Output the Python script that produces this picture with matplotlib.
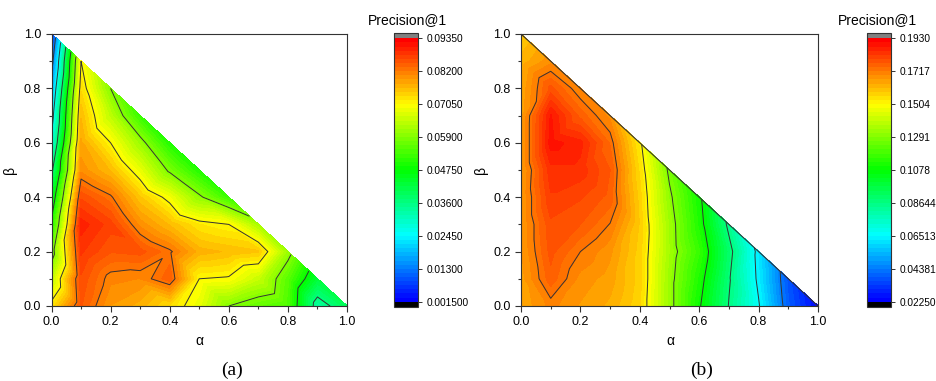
import numpy as np
import matplotlib
matplotlib.use('Agg')
import matplotlib.pyplot as plt
import matplotlib.tri as mtri
from matplotlib.colors import ListedColormap, hsv_to_rgb

plt.rcParams['font.family'] = ['Liberation Sans', 'DejaVu Sans']

grid_step = 0.1  # alpha / beta sampling step

# Precision@1 values, one list per alpha column (alpha = 0.0, 0.1, ...),
# each list runs over beta = 0.0, 0.1, ... up to 1 - alpha
prec_a = [
    [0.072, 0.064, 0.056, 0.049, 0.042, 0.034, 0.026, 0.021, 0.016, 0.010, 0.004],
    [0.085, 0.086, 0.088, 0.090, 0.086, 0.080, 0.078, 0.076, 0.073, 0.0705],
    [0.079, 0.081, 0.085, 0.087, 0.0825, 0.076, 0.0705, 0.064, 0.059],
    [0.077, 0.0805, 0.0855, 0.080, 0.075, 0.068, 0.061, 0.052],
    [0.073, 0.0845, 0.0825, 0.076, 0.069, 0.058, 0.050],
    [0.068, 0.0705, 0.077, 0.072, 0.060, 0.050],
    [0.059, 0.070, 0.076, 0.0705, 0.052],
    [0.056, 0.065, 0.075, 0.062],
    [0.054, 0.055, 0.061],
    [0.033, 0.042],
    [0.040],
]

prec_b = [
    [0.164, 0.165, 0.166, 0.166, 0.166, 0.165, 0.165, 0.165, 0.164, 0.162, 0.158],
    [0.170, 0.176, 0.178, 0.179, 0.182, 0.184, 0.189, 0.188, 0.178, 0.168],
    [0.166, 0.168, 0.1717, 0.177, 0.180, 0.184, 0.186, 0.176, 0.169],
    [0.163, 0.165, 0.167, 0.1715, 0.176, 0.177, 0.174, 0.168],
    [0.156, 0.157, 0.157, 0.158, 0.157, 0.155, 0.152],
    [0.1325, 0.1325, 0.134, 0.1335, 0.131, 0.127],
    [0.109, 0.112, 0.116, 0.112, 0.110],
    [0.086, 0.0875, 0.090, 0.084],
    [0.066, 0.063, 0.062],
    [0.039, 0.037],
    [0.024],
]

ticks_a = [0.0015, 0.013, 0.0245, 0.036, 0.0475, 0.059, 0.0705, 0.082, 0.0935]
ticklabels_a = ['0.001500', '0.01300', '0.02450', '0.03600', '0.04750',
                '0.05900', '0.07050', '0.08200', '0.09350']
ticks_b = [0.0225, 0.04381, 0.06513, 0.08644, 0.1078, 0.1291, 0.1504, 0.1717, 0.1930]
ticklabels_b = ['0.02250', '0.04381', '0.06513', '0.08644', '0.1078',
                '0.1291', '0.1504', '0.1717', '0.1930']

n_bands = 64

# rainbow: blue -> cyan -> green -> yellow -> red
hues = np.linspace(240, 0, n_bands) / 360.0
rgb = hsv_to_rgb(np.column_stack([hues, np.ones(n_bands), np.ones(n_bands)]))
cmap = ListedColormap(rgb)
cmap.set_over('#808080')
cmap.set_under('black')

edge = '#333333'


def to_points(cols):
    a, b, v = [], [], []
    for i, col in enumerate(cols):
        for j, val in enumerate(col):
            a.append(round(i * grid_step, 2))
            b.append(round(j * grid_step, 2))
            v.append(val)
    return np.array(a), np.array(b), np.array(v)


def draw(ax, cax, cols, ticks, ticklabels, hyp_line):
    a, b, v = to_points(cols)
    tri = mtri.Triangulation(a, b)
    levels = np.linspace(ticks[0], ticks[-1], n_bands + 1)
    cs = ax.tricontourf(tri, v, levels=levels, cmap=cmap, extend='both',
                        vmin=ticks[0], vmax=ticks[-1])
    cs.set_edgecolor('face')
    cs.set_linewidth(0.2)
    ax.tricontour(tri, v, levels=ticks[1:-1], colors=edge, linewidths=0.7)
    if hyp_line:
        ax.plot([0, 1], [1, 0], color=edge, lw=0.8)

    ax.set_xlim(0, 1)
    ax.set_ylim(0, 1)
    ax.set_xticks(np.arange(0, 1.01, 0.2))
    ax.set_yticks(np.arange(0, 1.01, 0.2))
    ax.set_xticks(np.arange(0.1, 1.0, 0.2), minor=True)
    ax.set_yticks(np.arange(0.1, 1.0, 0.2), minor=True)
    ax.xaxis.set_major_formatter(plt.FormatStrFormatter('%.1f'))
    ax.yaxis.set_major_formatter(plt.FormatStrFormatter('%.1f'))
    ax.tick_params(which='both', direction='out', color=edge, width=0.8,
                   labelsize=9, top=False, right=False)
    ax.tick_params(which='major', length=4)
    ax.tick_params(which='minor', length=2)
    for s in ax.spines.values():
        s.set_color(edge)
        s.set_linewidth(0.8)

    cb = plt.colorbar(cs, cax=cax, extendrect=True, extendfrac=0.02)
    cb.set_ticks(ticks)
    cb.set_ticklabels(ticklabels)
    cb.outline.set_edgecolor(edge)
    cb.outline.set_linewidth(0.8)
    cax.tick_params(direction='out', length=3, width=0.7, color=edge,
                    labelsize=7.3, pad=3)
    cax.minorticks_off()
    return cs


fig = plt.figure(figsize=(9.36, 3.81), dpi=100)

ax1 = fig.add_axes([51.5 / 936, 1 - 306 / 381, 295.5 / 936, 272 / 381])
cax1 = fig.add_axes([394 / 936, 1 - 307 / 381, 24 / 936, 274 / 381])
ax2 = fig.add_axes([521 / 936, 1 - 306 / 381, 297 / 936, 272 / 381])
cax2 = fig.add_axes([867 / 936, 1 - 307 / 381, 24 / 936, 274 / 381])

draw(ax1, cax1, prec_a, ticks_a, ticklabels_a, False)
draw(ax2, cax2, prec_b, ticks_b, ticklabels_b, True)

for cx in (407, 877):
    fig.text(cx / 936, 1 - 20 / 381, 'Precision@1', ha='center', va='center', fontsize=10)

for cx in (199, 670):
    fig.text(cx / 936, 1 - 341 / 381, 'α', ha='center', va='center', fontsize=10)
    fig.text((cx - 189) / 936, 1 - 170 / 381, 'β', ha='center', va='center',
             fontsize=10, rotation=90)

fig.text(232 / 936, 1 - 370 / 381, '(a)', ha='center', va='center', fontsize=14,
         family='Liberation Serif')
fig.text(702 / 936, 1 - 370 / 381, '(b)', ha='center', va='center', fontsize=14,
         family='Liberation Serif')

fig.savefig('out.png', dpi=100)
